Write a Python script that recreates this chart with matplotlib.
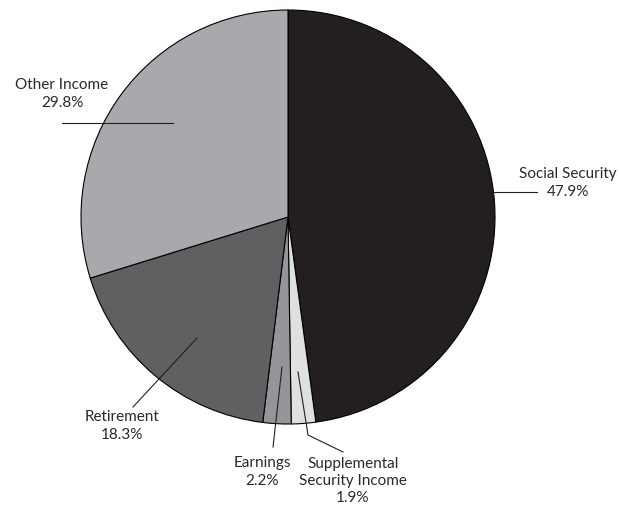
import matplotlib
matplotlib.use('Agg')
import matplotlib.pyplot as plt

# slices, clockwise from 12 o'clock
labels = ['Social Security', 'Supplemental\nSecurity Income', 'Earnings', 'Retirement', 'Other Income']
shares = [47.9, 1.9, 2.2, 18.3, 29.8]
slice_colors = ['#231f20', '#dfe0e2', '#939598', '#606062', '#a8a9ac']

# label text anchor (pixel coords, y down) and leader line points
text_pos = [(568, 183), (353, 481), (262, 472), (122, 426), (62, 94)]
leaders = [
    [(493, 192), (537, 192)],
    [(298, 372), (308, 435), (343, 452)],
    [(282, 367), (273, 447)],
    [(197, 338), (133, 407)],
    [(62, 123), (173, 123)],
]

W, H = 620, 508
fig = plt.figure(figsize=(W / 100, H / 100), dpi=100)
ax = fig.add_axes([0, 0, 1, 1])

plt.rcParams['font.family'] = ['Lato', 'DejaVu Sans']

cx, cy, r = 288, 217, 207
ax.pie(shares, colors=slice_colors, startangle=90, counterclock=False,
       center=(cx, H - cy), radius=r, frame=True,
       wedgeprops=dict(edgecolor='black', linewidth=0.8))
ax.set_xlim(0, W)
ax.set_ylim(0, H)
ax.axis('off')

for lab, val, (tx, ty), pts in zip(labels, shares, text_pos, leaders):
    xs = [p[0] for p in pts]
    ys = [H - p[1] for p in pts]
    ax.plot(xs, ys, color='#231f20', linewidth=0.8)
    ax.text(tx, H - ty, lab + '\n' + f'{val}%', ha='center', va='center',
            fontsize=11, color='#2b2829', linespacing=1.3)

plt.savefig('out.png', dpi=100)
